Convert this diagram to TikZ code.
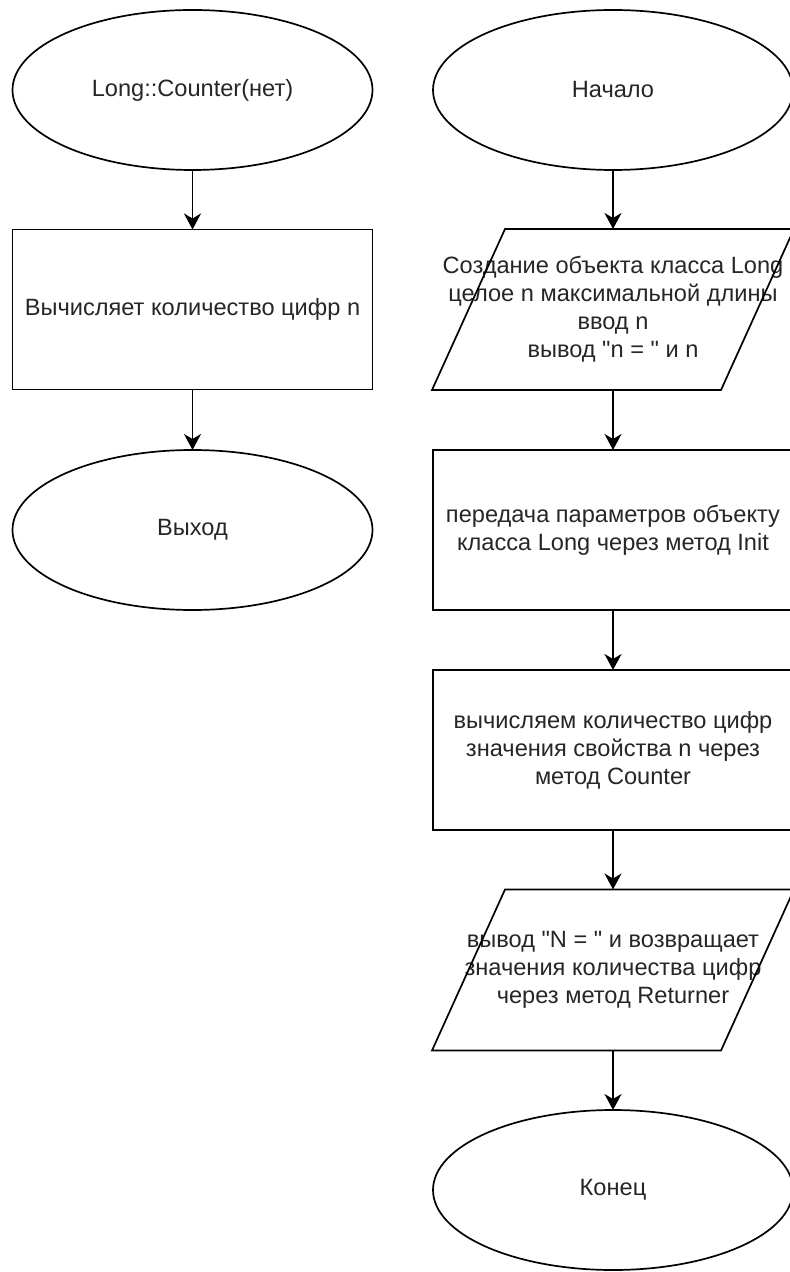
\documentclass[tikz,border=0pt]{standalone}
\usepackage{fontspec}
\newfontfamily\arialfont{Liberation Sans}
\usetikzlibrary{shapes.geometric,arrows.meta}
\begin{document}
\begin{tikzpicture}[x=0.5pt,y=-0.5pt,
  every node/.style={font=\arialfont\fontsize{11.8pt}{14pt}\selectfont, text=black!85, align=center, inner sep=0pt, outer sep=0pt},
  term/.style={ellipse, draw=black, line width=0.85pt, minimum width=180pt, minimum height=80pt},
  proc/.style={rectangle, draw=black, line width=0.85pt, minimum width=180pt, minimum height=80pt},
  io/.style={rectangle, minimum width=181pt, minimum height=80.5pt},
  flow/.style={draw=black, line width=0.85pt, -{Stealth[length=8pt,width=8.5pt,inset=2.5pt]}},
  shapeline/.style={draw=black, line width=0.85pt}]
\useasboundingbox (0,0) rectangle (790,1272);
\clip (0,0) rectangle (790,1272);

% left column
\node[term] (c1) at (192.5,90) {Long::Counter(нет)};
\node[proc] (p1) at (192.5,309.5) {Вычисляет количество цифр n};
\node[term] (ex) at (192.5,530) {Выход};

% right column
\node[term] (st) at (613,90) {Начало};
\node[io] (i1) at (613,309.5) {Создание объекта класса Long\\целое n максимальной длины\\ввод n\\вывод "n = " и n};
\draw[shapeline] (i1.south west) -- ([xshift=36.5pt]i1.north west) -- (i1.north east) -- ([xshift=-36.5pt]i1.south east) -- cycle;
\node[proc] (p2) at (613,530) {передача параметров объекту\\класса Long через метод Init};
\node[proc] (p3) at (613,750) {вычисляем количество цифр\\значения свойства n через\\метод Counter};
\node[io] (i2) at (613,970) {вывод "N = " и возвращает\\значения количества цифр\\через метод Returner};
\draw[shapeline] (i2.south west) -- ([xshift=36.5pt]i2.north west) -- (i2.north east) -- ([xshift=-36.5pt]i2.south east) -- cycle;
\node[term] (en) at (613,1190) {Конец};

% connectors
\draw[flow] (c1.south) -- (p1.north);
\draw[flow] (p1.south) -- (ex.north);
\draw[flow] (st.south) -- (i1.north);
\draw[flow] (i1.south) -- (p2.north);
\draw[flow] (p2.south) -- (p3.north);
\draw[flow] (p3.south) -- (i2.north);
\draw[flow] (i2.south) -- (en.north);
\end{tikzpicture}
\end{document}
